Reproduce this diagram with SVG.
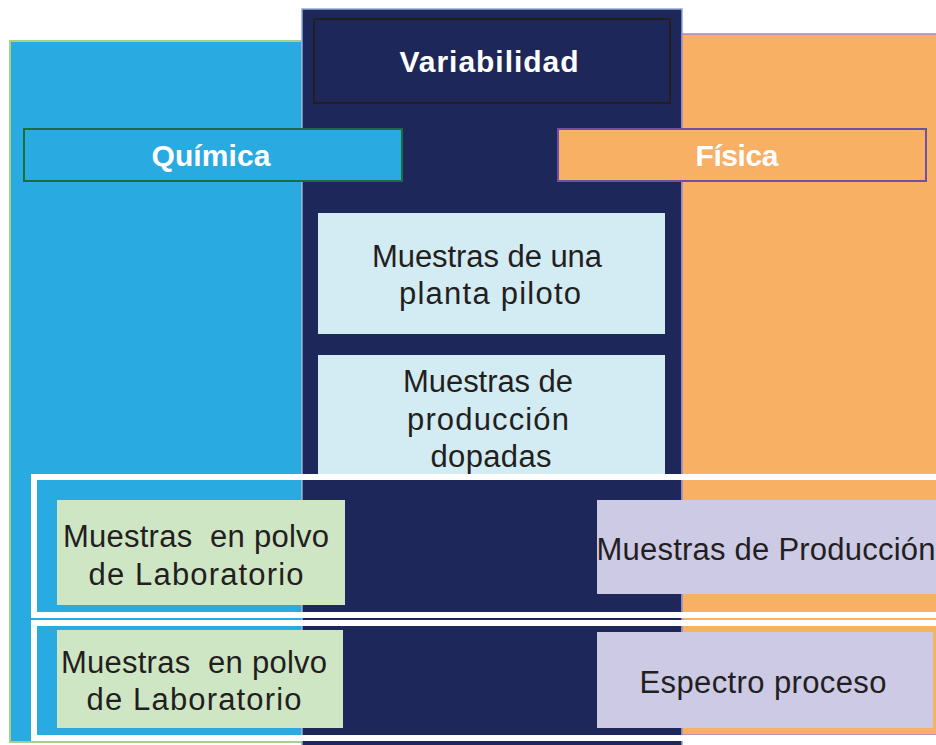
<svg xmlns="http://www.w3.org/2000/svg" width="936" height="745" viewBox="0 0 936 745">
<style>
.t{font-family:"Liberation Sans",Arial,sans-serif;font-size:31px;fill:#231f20;text-anchor:middle;white-space:pre}
.h{font-family:"Liberation Sans",Arial,sans-serif;font-size:30px;font-weight:bold;fill:#ffffff;text-anchor:middle}
.lb{fill:#d3ecf4}
.gr{fill:#cfe6c5}
.pu{fill:#cdcae6}
.fr{fill:none;stroke:#ffffff;stroke-width:6}
</style>
<rect width="936" height="745" fill="#ffffff"/>
<g id="col-quimica">
<rect x="10" y="41" width="292" height="701" fill="#29abe2" stroke="#a8d08d" stroke-width="2"/>
</g>
<g id="col-variabilidad">
<rect x="302" y="9" width="380" height="740" fill="#1e2759" stroke="#8ea9db" stroke-width="1.5"/>
</g>
<g id="col-fisica">
<rect x="682" y="34" width="260" height="701" fill="#f8b065" stroke="#9b8ccf" stroke-width="1.5"/>
</g>
<g id="variabilidad">
<rect x="314" y="19" width="356" height="84" fill="#1e2759" stroke="#231f20" stroke-width="2"/>
<text class="h" x="489" y="72" textLength="179" lengthAdjust="spacing">Variabilidad</text>
</g>
<g id="quimica">
<rect x="24" y="129" width="378" height="52" fill="#29abe2" stroke="#1a6e3c" stroke-width="2"/>
<text class="h" x="211" y="166" textLength="119" lengthAdjust="spacing">Química</text>
</g>
<g id="fisica">
<rect x="558" y="129" width="368" height="52" fill="#f8b065" stroke="#6f4fa8" stroke-width="2"/>
<text class="h" x="737" y="166" textLength="83" lengthAdjust="spacing">Física</text>
</g>
<g id="planta-piloto">
<rect class="lb" x="318" y="213" width="347" height="121"/>
<text class="t" x="487" y="267" textLength="230" lengthAdjust="spacing">Muestras de una</text>
<text class="t" x="490" y="304" textLength="182" lengthAdjust="spacing">planta piloto</text>
</g>
<g id="produccion-dopadas">
<rect class="lb" x="318" y="355" width="347" height="122"/>
<text class="t" x="488" y="392" textLength="170" lengthAdjust="spacing">Muestras de</text>
<text class="t" x="488" y="430" textLength="162" lengthAdjust="spacing">producción</text>
<text class="t" x="491" y="467" textLength="121" lengthAdjust="spacing">dopadas</text>
</g>
<g id="fila-1">
<rect class="fr" x="34" y="477" width="920" height="138"/>
</g>
<g id="fila-2">
<rect class="fr" x="34" y="623" width="920" height="115"/>
</g>
<g id="polvo-1">
<rect class="gr" x="57" y="500" width="288" height="105"/>
<text class="t" x="196" y="547" textLength="266" lengthAdjust="spacing" xml:space="preserve">Muestras  en polvo</text>
<text class="t" x="196" y="585" textLength="215" lengthAdjust="spacing">de Laboratorio</text>
</g>
<g id="produccion">
<rect class="pu" x="597" y="500" width="345" height="94"/>
<text class="t" x="766" y="560" textLength="339" lengthAdjust="spacing">Muestras de Producción</text>
</g>
<g id="polvo-2">
<rect class="gr" x="57" y="630" width="286" height="98"/>
<text class="t" x="194" y="673" textLength="266" lengthAdjust="spacing" xml:space="preserve">Muestras  en polvo</text>
<text class="t" x="194" y="710" textLength="215" lengthAdjust="spacing">de Laboratorio</text>
</g>
<g id="espectro">
<rect class="pu" x="597" y="632" width="336" height="96"/>
<text class="t" x="763" y="693" textLength="247" lengthAdjust="spacing">Espectro proceso</text>
</g>
<g id="connectors"/>
</svg>
